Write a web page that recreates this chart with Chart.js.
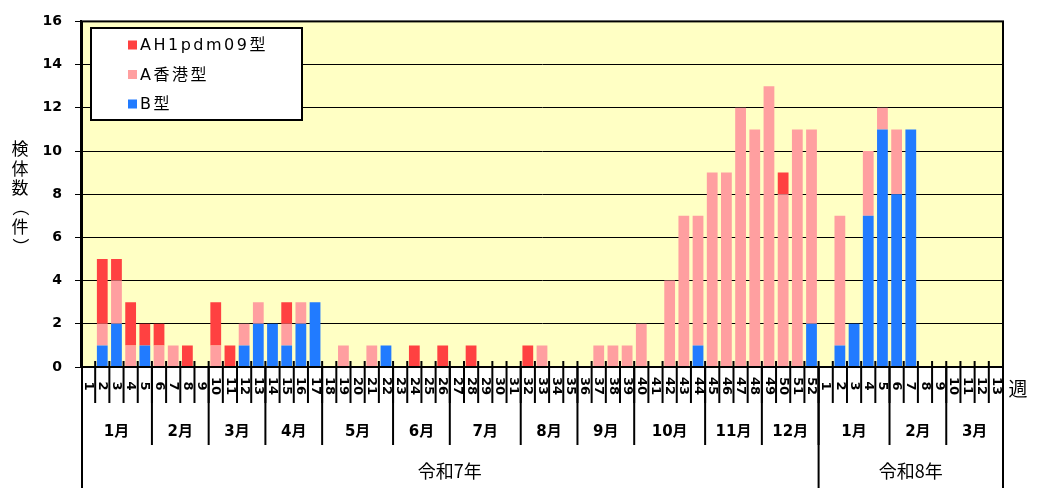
<!DOCTYPE html>
<html>
<head>
<meta charset="utf-8">
<script src="https://cdn.jsdelivr.net/npm/chart.js@4.4.1/dist/chart.umd.min.js"></script>
<style>
  body { margin: 0; background: #fff; }
  #wrap { width: 1042px; height: 498px; position: relative; }
</style>
</head>
<body>
<div id="wrap"><canvas id="grafico"></canvas></div>
<script>
// semanas: 令和7年 1-52, 令和8年 1-13
const weeks = [
  1,2,3,4,5,6,7,8,9,10,11,12,13,14,15,16,17,18,19,20,21,22,23,24,25,26,
  27,28,29,30,31,32,33,34,35,36,37,38,39,40,41,42,43,44,45,46,47,48,49,50,51,52,
  1,2,3,4,5,6,7,8,9,10,11,12,13
];

// 検体数 per week (stack order bottom -> top: B, A香港, AH1pdm09)
const typeB = [
  0,1,2,0,1,0,0,0,0,0,
  0,1,2,2,1,2,3,0,0,0,
  0,1,0,0,0,0,0,0,0,0,
  0,0,0,0,0,0,0,0,0,0,
  0,0,0,1,0,0,0,0,0,0,
  0,2,
  0,1,2,7,11,8,11,0,0,0,0,0,0
];
const typeAHK = [
  0,1,2,1,0,1,1,0,0,1,
  0,1,1,0,1,1,0,0,1,0,
  1,0,0,0,0,0,0,0,0,0,
  0,0,1,0,0,0,1,1,1,2,
  0,4,7,6,9,9,12,11,13,8,
  11,9,
  0,6,0,3,1,3,0,0,0,0,0,0,0
];
const typeAH1 = [
  0,3,1,2,1,1,0,1,0,2,
  1,0,0,0,1,0,0,0,0,0,
  0,0,0,1,0,1,0,1,0,0,
  0,1,0,0,0,0,0,0,0,0,
  0,0,0,0,0,0,0,0,0,1,
  0,0,
  0,0,0,0,0,0,0,0,0,0,0,0,0
];

const months = ['1月','2月','3月','4月','5月','6月','7月','8月','9月','10月','11月','12月','1月','2月','3月'];
const weeksPerMonth = [5,4,4,4,5,4,5,4,4,5,4,4, 5,4,4];
const years = ['令和7年','令和8年'];
const weeksPerYear = [52,13];
const yTitle = ['検','体','数','（','件','）'];

const CJK = '"Noto Sans CJK JP", sans-serif';
const LAT = '"DejaVu Sans", "Noto Sans CJK JP", sans-serif';

const frame = {
  id: 'frame',
  beforeDraw(chart) {
    const { ctx, chartArea: a } = chart;
    ctx.save();
    ctx.fillStyle = '#FFFFC4';
    ctx.fillRect(a.left, a.top, a.right - a.left, a.bottom - a.top);
    ctx.restore();
  },
  afterDraw(chart) {
    const { ctx, chartArea: a, scales: { x } } = chart;
    const half = (x.getPixelForValue(1) - x.getPixelForValue(0)) / 2;
    const edge = i => x.getPixelForValue(i) - half;   // left boundary of category i

    ctx.save();
    ctx.strokeStyle = '#000';
    ctx.lineWidth = 2;
    ctx.strokeRect(a.left + 1, a.top, a.right - a.left - 1, a.bottom - a.top);

    // week ticks + labels
    ctx.fillStyle = '#000';
    ctx.font = 'bold 13px ' + LAT;
    ctx.textAlign = 'center';
    ctx.textBaseline = 'middle';
    for (let i = 0; i < weeks.length; i++) {
      if (i > 0) {
        ctx.beginPath();
        ctx.moveTo(edge(i), a.bottom - 6);
        ctx.lineTo(edge(i), a.bottom + 36);
        ctx.stroke();
      }
      ctx.save();
      ctx.translate(x.getPixelForValue(i), a.bottom + 19);
      ctx.rotate(Math.PI / 2);
      ctx.fillText(String(weeks[i]), 0, 0);
      ctx.restore();
    }

    // months
    ctx.font = 'bold 15px ' + LAT;
    let k = 0;
    months.forEach((m, j) => {
      const from = k, to = k + weeksPerMonth[j];
      ctx.fillText(m, (edge(from) + edge(to)) / 2, a.bottom + 65);
      if (to < weeks.length) {
        ctx.beginPath();
        ctx.moveTo(edge(to), a.bottom);
        ctx.lineTo(edge(to), a.bottom + 78);
        ctx.stroke();
      }
      k = to;
    });

    // years
    ctx.font = '18px ' + CJK;
    k = 0;
    ctx.beginPath();
    ctx.moveTo(edge(0) + 1, a.bottom);
    ctx.lineTo(edge(0) + 1, a.bottom + 121);
    ctx.stroke();
    years.forEach((yl, j) => {
      const from = k, to = k + weeksPerYear[j];
      ctx.fillText(yl, (edge(from) + edge(to)) / 2, a.bottom + 104);
      ctx.beginPath();
      ctx.moveTo(edge(to), a.bottom);
      ctx.lineTo(edge(to), a.bottom + 121);
      ctx.stroke();
      k = to;
    });

    // 週
    ctx.font = '19px ' + CJK;
    ctx.fillText('週', a.right + 15, a.bottom + 22);

    // y title, stacked vertically (brackets turned like vertical text)
    ctx.font = '17px ' + CJK;
    yTitle.forEach((c, j) => {
      const cy = 149 + j * 19.5;
      if (c === '（' || c === '）') {
        ctx.save();
        ctx.translate(20, cy);
        ctx.rotate(Math.PI / 2);
        ctx.fillText(c, 0, 0);
        ctx.restore();
      } else {
        ctx.fillText(c, 20, cy);
      }
    });

    // legend
    const lx = 91, ly = 28;
    ctx.fillStyle = '#fff';
    ctx.fillRect(lx, ly, 211, 92);
    ctx.strokeRect(lx, ly, 211, 92);
    ctx.textAlign = 'left';
    ctx.font = '16px ' + LAT;
    ctx.letterSpacing = '2.5px';
    const ds = chart.data.datasets.slice().reverse();
    ds.forEach((d, j) => {
      const cy = ly + 17 + j * 29.5;
      ctx.fillStyle = d.backgroundColor;
      ctx.fillRect(lx + 37, cy - 4.5, 9, 9);
      ctx.fillStyle = '#000';
      ctx.fillText(d.label, lx + 49, cy + 1);
    });
    ctx.restore();
  }
};

new Chart(document.getElementById('grafico'), {
  type: 'bar',
  data: {
    labels: weeks.map(String),
    datasets: [
      { label: 'B型', data: typeB, backgroundColor: '#217BFF' },
      { label: 'A香港型', data: typeAHK, backgroundColor: '#FF9FA0' },
      { label: 'AH1pdm09型', data: typeAH1, backgroundColor: '#FF4141' }
    ]
  },
  options: {
    responsive: true,
    maintainAspectRatio: false,
    animation: false,
    layout: { padding: { top: 21, right: 39, left: 0, bottom: 0 } },
    datasets: { bar: { categoryPercentage: 1, barPercentage: 0.76, borderWidth: 0 } },
    plugins: { legend: { display: false }, tooltip: { enabled: false } },
    scales: {
      x: {
        stacked: true,
        grid: { display: false },
        border: { display: false },
        ticks: { display: false },
        afterFit(s) { s.height = 131; }
      },
      y: {
        stacked: true,
        min: 0,
        max: 16,
        ticks: {
          stepSize: 2,
          color: '#000',
          padding: 13,
          font: { family: 'DejaVu Sans', size: 14, weight: 'bold' }
        },
        grid: { color: '#000', lineWidth: 1, tickLength: 6 },
        border: { display: true, color: '#000', width: 2 },
        afterFit(s) { s.width = 81; }
      }
    }
  },
  plugins: [frame]
});
</script>
</body>
</html>
